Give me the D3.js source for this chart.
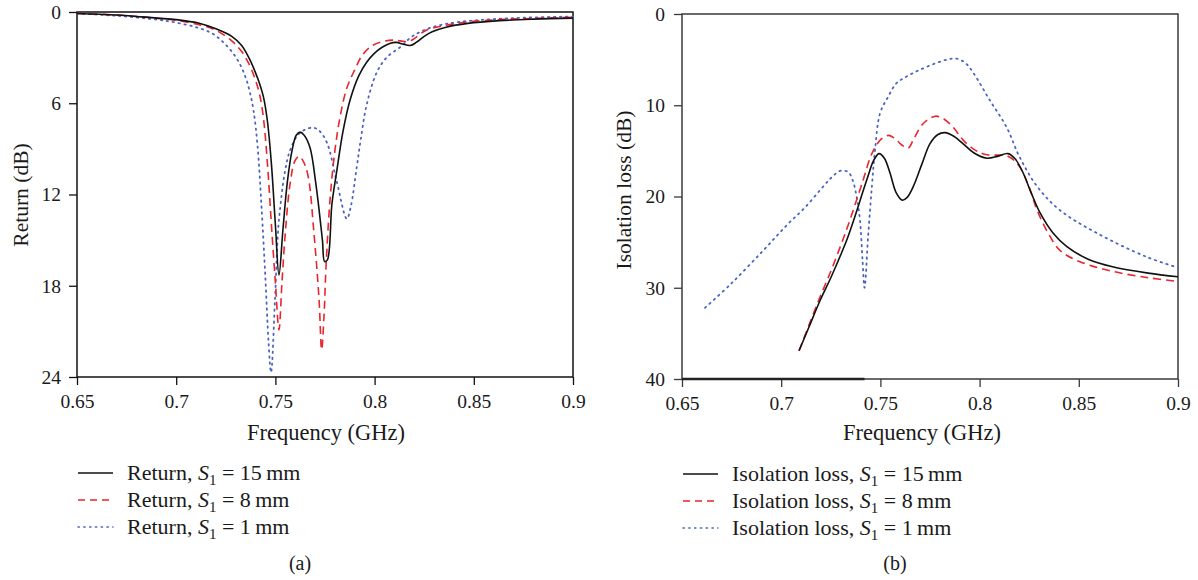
<!DOCTYPE html>
<html>
<head>
<meta charset="utf-8">
<script src="https://cdn.jsdelivr.net/npm/d3@7"></script>
<style>
  html, body { margin: 0; padding: 0; background: #fff; }
  svg { display: block; }
</style>
</head>
<body>
<svg id="chart" width="1198" height="580"></svg>
<script>
// ---------------- DATA ----------------
const xTickValues = [0.65, 0.7, 0.75, 0.8, 0.85, 0.9];
const xTickLabels = ["0.65", "0.7", "0.75", "0.8", "0.85", "0.9"];
const returnTicks = [0, 6, 12, 18, 24];
const isolationTicks = [0, 10, 20, 30, 40];

const seriesSizes = ["15", "8", "1"];

// Panel (a): Return (dB) vs frequency (GHz)
const return15 = [
  [0.65,0.1],[0.67,0.2],[0.69,0.4],[0.70,0.5],[0.712,0.75],[0.72,1.1],[0.728,1.6],[0.733,2.2],
  [0.737,3.1],[0.740,4.0],[0.742,4.7],[0.744,5.6],[0.746,7.2],[0.748,10.0],[0.750,14.0],
  [0.7518,17.3],[0.7538,14.3],[0.756,11.2],[0.7584,9.1],[0.7605,8.1],[0.7624,7.9],[0.7645,8.1],
  [0.7674,8.9],[0.7704,11.3],[0.7737,15.0],[0.7748,16.4],[0.7762,16.3],[0.7785,12.6],[0.781,10.4],
  [0.784,7.9],[0.7876,5.8],[0.792,4.2],[0.796,3.3],[0.800,2.7],[0.804,2.3],[0.808,2.05],[0.811,2.0],
  [0.814,2.1],[0.818,2.2],[0.821,2.0],[0.825,1.6],[0.829,1.3],[0.836,1.0],[0.847,0.75],[0.863,0.57],
  [0.88,0.47],[0.9,0.4]
];
const return8 = [
  [0.65,0.1],[0.67,0.2],[0.69,0.4],[0.70,0.55],[0.712,0.85],[0.72,1.2],[0.728,1.9],[0.733,2.6],
  [0.737,3.5],[0.740,4.5],[0.742,5.4],[0.744,7.0],[0.746,10.0],[0.748,14.0],[0.750,17.8],[0.7518,20.9],
  [0.7533,17.8],[0.755,14.5],[0.7574,11.3],[0.7598,9.8],[0.7619,9.5],[0.764,9.8],[0.7665,10.8],
  [0.7694,14.5],[0.772,18.9],[0.7733,22.2],[0.7745,20.0],[0.7755,16.8],[0.7775,12.4],[0.780,9.1],
  [0.7826,6.9],[0.786,5.0],[0.790,3.8],[0.794,2.8],[0.799,2.2],[0.804,1.95],[0.809,1.85],[0.813,1.9],
  [0.817,1.95],[0.820,1.75],[0.826,1.2],[0.835,0.9],[0.847,0.65],[0.863,0.5],[0.88,0.42],[0.9,0.35]
];
const return1 = [
  [0.65,0.1],[0.67,0.25],[0.69,0.5],[0.70,0.7],[0.71,1.0],[0.718,1.4],[0.723,1.9],[0.728,2.6],
  [0.732,3.4],[0.735,4.3],[0.737,5.2],[0.739,6.5],[0.741,8.8],[0.743,12.8],[0.745,17.6],[0.7465,21.6],[0.7478,23.7],
  [0.7498,18.9],[0.7513,14.5],[0.7523,13.0],[0.7548,10.5],[0.7574,9.1],[0.762,8.0],[0.7685,7.6],
  [0.772,7.8],[0.776,8.6],[0.781,11.2],[0.786,13.6],[0.788,12.8],[0.791,10.2],[0.793,8.4],
  [0.796,6.1],[0.801,4.0],[0.806,3.0],[0.813,2.3],[0.819,1.6],[0.829,1.0],[0.843,0.65],[0.87,0.4],[0.9,0.3]
];

// Panel (b): Isolation loss (dB) vs frequency (GHz)
const isolation15 = [
  [0.709,36.9],[0.714,34.3],[0.7196,31.4],[0.725,28.9],[0.7296,26.6],[0.733,24.8],[0.737,22.3],
  [0.741,19.6],[0.7437,17.8],[0.7465,16.1],[0.7493,15.3],[0.752,15.8],[0.7548,17.4],[0.758,19.6],
  [0.761,20.4],[0.7635,20.1],[0.7666,18.9],[0.771,16.4],[0.775,14.2],[0.779,13.2],[0.7826,13.0],
  [0.787,13.4],[0.7916,14.2],[0.797,15.2],[0.8037,15.8],[0.809,15.6],[0.8143,15.3],[0.818,15.9],
  [0.8219,17.4],[0.826,19.6],[0.8305,21.8],[0.837,24.0],[0.844,25.5],[0.855,26.9],[0.867,27.7],
  [0.885,28.4],[0.9,28.8]
];
const isolation8 = [
  [0.709,36.9],[0.714,34.1],[0.7196,31.0],[0.725,28.2],[0.7296,25.6],[0.733,23.6],[0.736,21.7],
  [0.741,18.4],[0.7457,15.3],[0.750,13.8],[0.754,13.3],[0.757,13.6],[0.7605,14.3],[0.764,14.7],[0.767,13.6],
  [0.7716,12.0],[0.7776,11.2],[0.782,11.5],[0.787,12.5],[0.7916,13.8],[0.797,14.8],[0.803,15.4],
  [0.8143,15.6],[0.820,16.7],[0.825,19.0],[0.829,21.5],[0.8345,24.0],[0.8405,25.9],[0.85,27.1],
  [0.867,28.2],[0.885,28.9],[0.9,29.3]
];
const isolation1 = [
  [0.6616,32.2],[0.675,29.5],[0.691,25.9],[0.703,23.1],[0.712,21.2],[0.72,19.2],[0.725,18.0],[0.7296,17.2],
  [0.7337,17.3],[0.736,18.2],[0.738,20.0],[0.7397,22.6],[0.741,27.0],[0.742,30.0],[0.7438,24.4],
  [0.7457,18.9],[0.7473,14.9],[0.7498,10.9],[0.7538,9.1],[0.758,7.6],[0.762,7.0],[0.77,6.1],
  [0.7835,5.0],[0.7886,4.9],[0.793,5.4],[0.797,6.5],[0.805,9.4],[0.8136,12.4],[0.820,15.6],
  [0.829,18.9],[0.8405,21.5],[0.859,24.0],[0.884,26.6],[0.9,27.8]
];
// darker stroke along the bottom of panel (b) (as in the source figure)
const isolationBaseSegment = [[0.65,40],[0.742,40]];

// ---------------- FONT PICK ----------------
function pickFont(cands) {
  const c = document.createElement("canvas").getContext("2d");
  const s = "Frequency (GHz) 0.65 Isolation loss mmWQ";
  function w(f) { c.font = "40px " + f; return c.measureText(s).width; }
  const wm = w("monospace"), ws = w("sans-serif");
  for (const f of cands) {
    if (Math.abs(w(`"${f}", monospace`) - wm) > 0.5 || Math.abs(w(`"${f}", sans-serif`) - ws) > 0.5) return `"${f}"`;
  }
  return "serif";
}
const FONT = pickFont(["Liberation Serif", "Times New Roman", "Tinos", "Noto Serif", "DejaVu Serif", "FreeSerif"]) + ", serif";

// ---------------- DRAWING ----------------
const svg = d3.select("#chart").attr("font-family", FONT);
const styles = [
  { color: "#111111", dash: null, width: 1.6 },
  { color: "#e8262e", dash: "8,5", width: 1.6 },
  { color: "#4a62c4", dash: "1.4,4.6", width: 1.8 }
];

function panel(cfg) {
  const g = svg.append("g");
  const x = d3.scaleLinear().domain([0.65, 0.9]).range(cfg.xr);
  const y = d3.scaleLinear().domain(cfg.yd).range(cfg.yr);

  g.append("rect")
    .attr("x", x(0.65)).attr("y", y(cfg.yd[0]))
    .attr("width", x(0.9) - x(0.65)).attr("height", y(cfg.yd[1]) - y(cfg.yd[0]))
    .attr("fill", "none").attr("stroke", cfg.frame).attr("stroke-width", 1.5);

  const xa = d3.axisBottom(x).tickValues(xTickValues).tickSize(8).tickPadding(9)
    .tickFormat((d, i) => xTickLabels[i]);
  const gx = g.append("g").attr("transform", `translate(0,${y(cfg.yd[1])})`).call(xa)
    .attr("font-family", FONT).attr("font-size", 19.5);
  gx.select(".domain").remove();
  gx.selectAll("line").attr("stroke", cfg.frame).attr("stroke-width", 1.3);
  gx.selectAll("text").attr("fill", "#1a1a1a");

  const ya = d3.axisLeft(y).tickValues(cfg.ticks).tickSize(8).tickPadding(cfg.ypad)
    .tickFormat(d3.format("d"));
  const gy = g.append("g").attr("transform", `translate(${x(0.65)},0)`).call(ya)
    .attr("font-family", FONT).attr("font-size", 19.5);
  gy.select(".domain").remove();
  gy.selectAll("line").attr("stroke", cfg.frame).attr("stroke-width", 1.3);
  gy.selectAll("text").attr("fill", "#1a1a1a");

  if (cfg.base) {
    g.append("path").datum(cfg.base)
      .attr("d", d3.line().x(d => x(d[0])).y(d => y(d[1])))
      .attr("stroke", "#222").attr("stroke-width", 2.6).attr("fill", "none");
  }

  const clipId = "clip" + cfg.id;
  svg.append("clipPath").attr("id", clipId).append("rect")
    .attr("x", x(0.65)).attr("y", y(cfg.yd[0]) - 2)
    .attr("width", x(0.9) - x(0.65) + 1).attr("height", y(cfg.yd[1]) - y(cfg.yd[0]) + 2);

  const line = d3.line().x(d => x(d[0])).y(d => y(d[1])).curve(d3.curveCatmullRom.alpha(0.5));
  [2, 1, 0].forEach(i => {
    g.append("path").datum(cfg.series[i])
      .attr("clip-path", `url(#${clipId})`)
      .attr("d", line)
      .attr("fill", "none")
      .attr("stroke", styles[i].color)
      .attr("stroke-width", styles[i].width)
      .attr("stroke-dasharray", styles[i].dash)
      .attr("stroke-linecap", i === 2 ? "round" : "butt")
      .attr("stroke-linejoin", "round");
  });

  g.append("text").attr("x", cfg.xtitle[0]).attr("y", cfg.xtitle[1])
    .attr("text-anchor", "middle").attr("font-size", 22.5).attr("fill", "#1a1a1a").text("Frequency (GHz)");
  g.append("text")
    .attr("transform", `translate(${cfg.ytitle[0]},${cfg.ytitle[1]}) rotate(-90)`)
    .attr("text-anchor", "middle").attr("dy", "0.35em").attr("font-size", 21.5).attr("fill", "#1a1a1a").text(cfg.ylabel);

  seriesSizes.forEach((s, i) => {
    const ly = cfg.legend[1] + i * 27;
    g.append("line").attr("x1", cfg.legend[0]).attr("x2", cfg.legend[0] + 35)
      .attr("y1", ly).attr("y2", ly)
      .attr("stroke", styles[i].color).attr("stroke-width", i === 2 ? 1.5 : 1.6)
      .attr("stroke-dasharray", i === 1 ? "7,5" : (i === 2 ? "1.3,4.5" : null))
      .attr("stroke-linecap", i === 2 ? "round" : "butt");
    const t = g.append("text").attr("x", cfg.legend[0] + 49).attr("y", ly + 7)
      .attr("font-size", 22).attr("fill", "#1a1a1a");
    t.append("tspan").text(cfg.legendName + ", ");
    t.append("tspan").attr("font-style", "italic").text("S");
    t.append("tspan").attr("dy", 5).attr("font-size", 15).text("1");
    t.append("tspan").attr("dy", -5).text(" = " + s + "\u2009mm");
  });

  g.append("text").attr("x", cfg.tag[0]).attr("y", cfg.tag[1])
    .attr("text-anchor", "middle").attr("font-size", 20).attr("fill", "#1a1a1a").text(cfg.tagText);
}

panel({
  id: "a", xr: [77, 573], yd: [0, 24], yr: [12, 377], ticks: returnTicks, ypad: 8,
  frame: "#111", series: [return15, return8, return1],
  xtitle: [326, 440], ytitle: [20, 195], ylabel: "Return (dB)",
  legend: [78, 473], legendName: "Return", tag: [300, 570], tagText: "(a)"
});
panel({
  id: "b", xr: [682, 1178], yd: [0, 40], yr: [14, 379], ticks: isolationTicks, ypad: 9,
  frame: "#3a3a3a", series: [isolation15, isolation8, isolation1], base: isolationBaseSegment,
  xtitle: [922, 440], ytitle: [623, 190], ylabel: "Isolation loss (dB)",
  legend: [683, 474], legendName: "Isolation loss", tag: [895, 570], tagText: "(b)"
});
</script>
</body>
</html>
